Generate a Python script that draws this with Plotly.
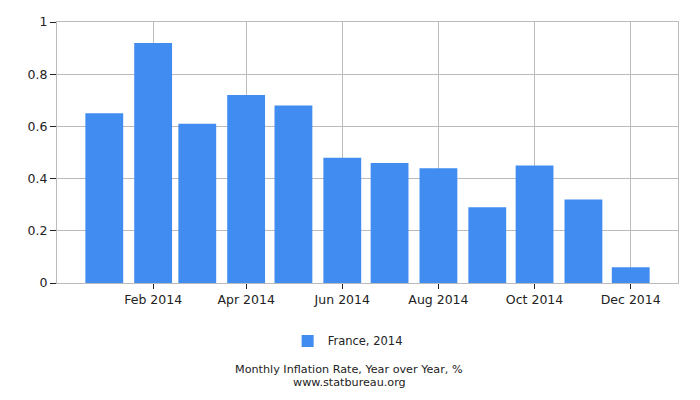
import plotly.graph_objs as go

months = ["2014-01-01", "2014-02-01", "2014-03-01", "2014-04-01", "2014-05-01", "2014-06-01",
          "2014-07-01", "2014-08-01", "2014-09-01", "2014-10-01", "2014-11-01", "2014-12-01"]
rates = [0.65, 0.92, 0.61, 0.72, 0.68, 0.48, 0.46, 0.44, 0.29, 0.45, 0.32, 0.06]
series_name = "France, 2014"
y_ticks = [0, 0.2, 0.4, 0.6, 0.8, 1]
y_labels = ["0", "0.2", "0.4", "0.6", "0.8", "1"]

day_ms = 86400000

fig = go.Figure(go.Bar(
    x=months, y=rates, name=series_name,
    marker=dict(color="#418cf0", line=dict(width=0)),
    width=[24 * day_ms] * len(months),
))

# page body has an 8px margin, so the figure is a bit smaller than the window
fig.update_layout(
    width=692, height=392,
    margin=dict(l=49, r=22, t=14, b=117),
    plot_bgcolor="white", paper_bgcolor="white",
    font=dict(family="DejaVu Sans", size=12.5, color="#222"),
    showlegend=True,
    legend=dict(orientation="h", x=0.468, xanchor="center", y=-0.222, yanchor="middle",
                font=dict(size=11.5)),
    xaxis=dict(
        type="date", range=["2013-12-02", "2014-12-31"],
        tick0="2014-02-01", dtick="M2", tickformat="%b %Y",
        ticks="outside", ticklen=5, tickcolor="#222",
        showgrid=True, gridcolor="#bbbbbb", gridwidth=1,
        showline=True, linecolor="#bbbbbb", mirror=True,
        zeroline=False, automargin=False,
    ),
    yaxis=dict(
        range=[0, 1], tickvals=y_ticks, ticktext=y_labels,
        ticks="outside", ticklen=6, tickcolor="#222",
        showgrid=True, gridcolor="#bbbbbb", gridwidth=1,
        showline=True, linecolor="#bbbbbb", mirror=True,
        zeroline=False, automargin=False,
    ),
    annotations=[
        dict(text="Monthly Inflation Rate, Year over Year, %", xref="paper", yref="paper",
             x=0.471, y=-0.298, xanchor="center", yanchor="top", showarrow=False,
             font=dict(size=11.2)),
        dict(text="www.statbureau.org", xref="paper", yref="paper",
             x=0.471, y=-0.348, xanchor="center", yanchor="top", showarrow=False,
             font=dict(size=11.2)),
    ],
)

fig.write_html("out.html")
